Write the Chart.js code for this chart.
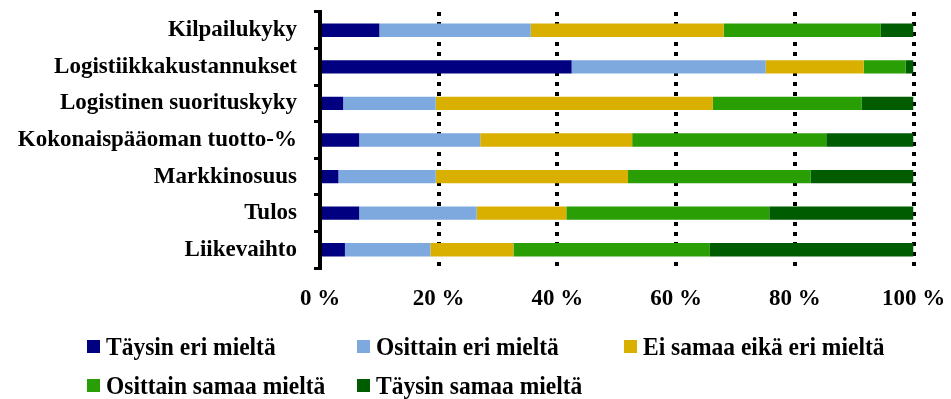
<!DOCTYPE html>
<html lang="fi">
<head>
<meta charset="utf-8">
<title>Kilpailukyky ja logistiikka</title>
<script src="https://cdn.jsdelivr.net/npm/chart.js@4.4.1/dist/chart.umd.min.js"></script>
<style>
  body { margin: 0; background: #fff; }
  #wrap { position: relative; width: 951px; height: 399px; }
  #legend {
    position: absolute;
    left: 87px;
    top: 335px;
    display: grid;
    grid-template-columns: 270px 267px auto;
    row-gap: 15.5px;
    font: bold 23.5px 'Liberation Serif', 'Times New Roman', serif;
    line-height: 23.5px;
    color: #000;
  }
  .legend-item { display: flex; align-items: center; white-space: nowrap; }
  .legend-box { width: 13px; height: 13px; margin-right: 6px; flex: none; }
  .legend-text { display: inline-block; transform: scaleY(1.08); }
</style>
</head>
<body>
<div id="wrap">
  <canvas id="chart"></canvas>
  <div id="legend"></div>
</div>
<script>
const categories = [
  'Kilpailukyky',
  'Logistiikkakustannukset',
  'Logistinen suorituskyky',
  'Kokonaispääoman tuotto-%',
  'Markkinosuus',
  'Tulos',
  'Liikevaihto',
];

const seriesLabels = [
  'Täysin eri mieltä',
  'Osittain eri mieltä',
  'Ei samaa eikä eri mieltä',
  'Osittain samaa mieltä',
  'Täysin samaa mieltä',
];

// prosentteina, kategoriat ylhäältä alas
const taysinEri = [10.0, 42.4, 3.9, 6.6, 3.1, 6.6, 4.2];
const osittainEri = [25.5, 32.7, 15.6, 20.4, 16.4, 19.8, 14.4];
const eiSamaaEikaEri = [32.5, 16.5, 46.7, 25.6, 32.4, 15.1, 14.0];
const osittainSamaa = [26.5, 7.1, 25.1, 32.7, 30.8, 34.2, 33.1];
const taysinSamaa = [5.5, 1.3, 8.7, 14.7, 17.3, 24.3, 34.3];

const xTicks = [0, 20, 40, 60, 80, 100];

const colors = ['#000080', '#7da9de', '#d9af00', '#2a9e05', '#005c00'];

const seriesValues = [taysinEri, osittainEri, eiSamaaEikaEri, osittainSamaa, taysinSamaa];

const fontFamily = "'Liberation Serif', 'Times New Roman', serif";

const datasets = seriesValues.map((values, i) => ({
  label: seriesLabels[i],
  data: values,
  backgroundColor: colors[i],
  borderWidth: 0,
  barPercentage: 0.365,
  categoryPercentage: 1,
}));

const chartEl = document.getElementById('chart');

const chart = new Chart(chartEl, {
  type: 'bar',
  data: {
    labels: categories,
    datasets: datasets,
  },
  options: {
    indexAxis: 'y',
    responsive: true,
    maintainAspectRatio: false,
    animation: false,
    layout: {
      padding: { top: 12, right: 37.5, bottom: 81, left: 0 },
    },
    plugins: {
      legend: { display: false },
      tooltip: { enabled: false },
    },
    scales: {
      x: {
        stacked: true,
        min: 0,
        max: 100,
        afterBuildTicks: (scale) => {
          scale.ticks = xTicks.map((v) => ({ value: v }));
        },
        afterFit: (scale) => {
          scale.height = 50;
          scale.paddingLeft = 0;
          scale.paddingRight = 0;
        },
        grid: {
          color: (ctx) => (ctx.tick && ctx.tick.value === 0 ? 'rgba(0,0,0,0)' : '#000'),
          lineWidth: 4,
          drawTicks: false,
        },
        border: { display: false, dash: [4, 6] },
        ticks: {
          padding: 17,
          color: '#000',
          font: { family: fontFamily, size: 23, weight: 'bold' },
          callback: (value) => value + ' %',
        },
      },
      y: {
        stacked: true,
        afterFit: (scale) => {
          scale.width = 320;
          scale.paddingTop = 0;
          scale.paddingBottom = 0;
        },
        grid: {
          drawOnChartArea: false,
          drawTicks: true,
          tickLength: 6,
          lineWidth: 3,
          color: '#000',
          offset: true,
        },
        border: { display: true, color: '#000', width: 4, z: 1 },
        ticks: {
          padding: 17,
          color: '#000',
          font: { family: fontFamily, size: 23, weight: 'bold' },
        },
      },
    },
  },
});

// selite kolmeen sarakkeeseen kuten alkuperäisessä
const legendEl = document.getElementById('legend');
for (const dataset of chart.data.datasets) {
  const item = document.createElement('div');
  item.classList.add('legend-item');
  const box = document.createElement('span');
  box.classList.add('legend-box');
  box.style.background = dataset.backgroundColor;
  const text = document.createElement('span');
  text.classList.add('legend-text');
  text.textContent = dataset.label;
  item.appendChild(box);
  item.appendChild(text);
  legendEl.appendChild(item);
}
</script>
</body>
</html>
